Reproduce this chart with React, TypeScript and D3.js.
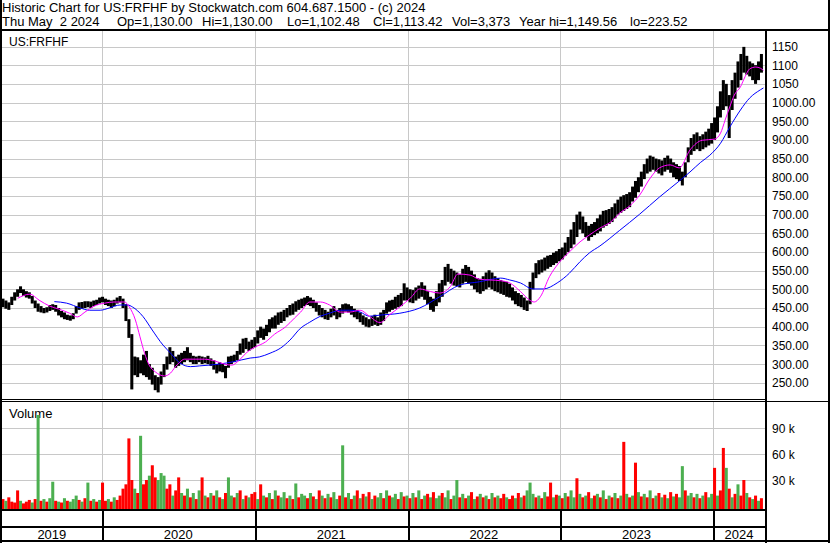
import React from 'react';
import * as d3 from 'd3';

const headerLine1 = 'Historic Chart for US:FRFHF by Stockwatch.com 604.687.1500 - (c) 2024';
const headerFields = ['Thu May  2 2024', 'Op=1,130.00', 'Hi=1,130.00', 'Lo=1,102.48', 'Cl=1,113.42', 'Vol=3,373', 'Year hi=1,149.56', 'lo=223.52'];
const symbolLabel = 'US:FRFHF';
const volumeLabel = 'Volume';
const yearLabels = [2019, 2020, 2021, 2022, 2023, 2024];
const priceTicks = [250, 300, 350, 400, 450, 500, 550, 600, 650, 700, 750, 800, 850, 900, 950, 1000, 1050, 1100, 1150];
const priceTickLabels = ['250.00', '300.00', '350.00', '400.00', '450.00', '500.00', '550.00', '600.00', '650.00', '700.00', '750.00', '800.00', '850.00', '900.00', '950.00', '1000.00', '1050', '1100', '1150'];
const volumeTicks = [30, 60, 90];
const volumeTickLabels = ['30 k', '60 k', '90 k'];
const firstWeek = new Date(2019, 4, 3);

const weekLow = [
  455,452,448,445,458,470,480,490,482,478,
  475,462,450,440,438,436,438,442,445,440,
  430,425,420,418,416,420,435,445,448,450,
  452,450,455,458,462,465,458,455,450,455,
  462,465,450,415,370,232,270,265,275,270,
  265,258,245,230,224,245,265,285,300,305,
  290,295,300,305,310,305,300,300,305,300,
  302,300,295,285,275,280,278,262,290,300,
  305,310,325,330,340,335,340,345,355,370,
  365,375,385,395,395,405,410,415,425,430,
  432,440,445,450,455,458,455,450,440,430,
  425,420,418,425,430,420,425,435,440,438,
  432,425,420,412,405,400,398,402,405,402,
  405,415,435,440,445,448,452,455,470,470,
  465,463,470,475,480,472,460,445,440,455,
  465,480,510,520,515,510,508,505,515,520,
  515,510,500,492,488,495,500,505,500,495,
  492,488,485,480,478,470,460,455,452,445,
  442,460,500,530,540,545,550,555,560,565,
  570,575,580,590,600,610,620,640,660,650,
  640,630,640,645,650,655,665,670,675,680,
  690,700,705,710,715,720,735,745,760,775,
  795,810,815,820,815,810,805,815,820,812,
  800,795,790,778,800,840,860,870,875,870,
  875,880,885,890,900,920,960,980,990,905,
  980,1010,1040,1060,1080,1075,1070,1060,1050,1060,
  1080,
];
const weekHigh = [
  478,475,470,465,480,492,500,508,500,495,
  492,482,470,462,455,450,452,458,460,458,
  450,442,438,432,430,436,455,465,466,468,
  468,467,470,472,478,480,475,472,470,472,
  478,482,475,460,420,380,320,318,310,325,
  335,300,290,270,265,280,300,320,345,335,
  320,325,330,335,345,330,322,320,322,320,
  318,322,315,310,300,305,300,295,320,322,
  325,335,355,368,370,360,365,372,390,400,
  395,405,420,425,430,438,440,445,450,458,
  462,468,472,475,478,482,478,472,465,458,
  450,445,440,448,455,445,450,460,462,460,
  455,448,445,438,430,425,420,428,432,425,
  438,445,465,470,472,480,485,490,516,505,
  500,498,505,510,519,510,495,480,475,495,
  516,525,560,568,555,550,545,540,555,565,
  560,550,540,530,528,535,545,551,545,535,
  530,525,522,520,515,505,495,490,485,478,
  470,520,545,570,578,580,585,590,592,598,
  602,608,612,625,640,660,680,700,708,695,
  680,670,675,680,690,700,710,712,715,720,
  730,740,748,752,755,760,775,790,800,815,
  835,850,858,855,850,848,845,852,858,850,
  840,835,830,815,840,880,905,915,920,910,
  915,922,930,945,960,990,1030,1060,1050,1020,
  1060,1080,1110,1130,1149,1125,1110,1105,1100,1110,
  1130,
];
// weekly volume, thousands of shares
const weekVolume = [
  18,8,6,10,5,4,18,6,3,5,7,4,8,105,6,8,5,9,28,6,5,4,9,6,5,8,12,7,5,9,27,6,8,5,7,
  27,6,8,5,10,7,12,20,25,78,30,20,15,81,25,30,35,47,33,30,38,35,20,25,12,18,33,15,12,20,10,15,8,18,33,12,10,15,12,18,10,8,15,33,12,10,15,18,8,12,10,14,
  16,8,25,12,10,15,8,18,12,10,16,9,12,8,26,10,14,12,9,15,11,8,18,12,9,14,10,16,8,12,70,10,15,8,12,18,9,14,11,16,8,12,10,15,9,18,12,10,14,8,16,11,
  12,9,15,10,18,8,12,14,10,16,9,12,15,10,18,8,12,30,10,14,9,12,16,8,11,14,10,12,8,15,10,12,9,14,10,8,12,9,15,10,12,18,27,14,10,12,9,16,11,27,10,13,
  12,9,15,11,18,10,32,14,10,12,16,9,12,14,10,18,8,12,10,15,9,12,74,14,10,12,50,16,11,14,10,18,9,12,15,10,13,9,16,11,14,10,46,18,12,15,10,14,9,12,16,10,
  14,44,12,18,67,44,20,10,14,25,12,30,15,10,8,12,6,9,
];
const weekDirection = (
  'rrgrrrrgrrrgr' + 'grgrgg' + 'rgrgrggg' + 'rgrgrgrg' +
  'rrgrgrrrrr' + 'rgrgrrgrrg' + 'ggrrgrrgrg' + 'rgrgrgrgrg' + 'rgrggrgrgrgr' +
  'rgrgrgrgrg' + 'grgrgrggrg' + 'rgrgrgrggr' + 'grgrgrgrgr' + 'grggrgrggrgr' +
  'grgrgrgrgr' + 'ggrggrggrg' + 'rgrgrgrgrg' + 'rgrrgrrgrg' + 'rgggrgrgrrgr' +
  'grgrggrgrg' + 'rgrgrgrgrg' + 'rgrgrgrgrg' + 'rgrgrgrgrg' + 'rggrggrgrgrg' +
  'grgrrgrgrgrrgrgrgr'
).split('');

// moving averages (decimal year, price)
const maShortYear = [2019.45,2019.53,2019.59,2019.66,2019.72,2019.79,2019.84,2019.89,2019.95,2020.02,2020.08,2020.15,2020.18,2020.22,2020.25,2020.28,2020.31,2020.35,2020.38,2020.41,2020.45,2020.48,2020.51,2020.54,2020.61,2020.67,2020.74,2020.80,2020.85,2020.90,2020.95,2021.00,2021.07,2021.13,2021.20,2021.26,2021.30,2021.36,2021.43,2021.49,2021.56,2021.62,2021.69,2021.75,2021.82,2021.88,2021.95,2022.02,2022.08,2022.15,2022.21,2022.28,2022.33,2022.41,2022.47,2022.54,2022.61,2022.67,2022.74,2022.80,2022.83,2022.87,2022.93,2022.99,2023.06,2023.13,2023.19,2023.26,2023.33,2023.39,2023.46,2023.52,2023.59,2023.65,2023.72,2023.78,2023.85,2023.93,2024.01,2024.05,2024.08,2024.11,2024.14,2024.18,2024.21,2024.24,2024.28,2024.31,2024.33];
const maShortValue = [476,487,471,455,447,436,426,439,455,463,466,466,453,418,373,329,297,279,271,268,276,292,305,313,313,313,308,300,297,311,332,345,359,380,399,423,439,466,466,458,439,439,444,428,411,431,453,477,501,494,490,507,541,538,527,525,523,517,494,471,466,480,534,570,600,627,645,664,680,704,725,752,798,825,833,825,873,899,902,918,953,988,1020,1042,1069,1090,1095,1092,1086];
const maLongYear = [2019.69,2019.77,2019.86,2019.92,2019.99,2020.05,2020.12,2020.17,2020.20,2020.27,2020.33,2020.40,2020.45,2020.51,2020.58,2020.64,2020.77,2020.86,2020.97,2021.03,2021.10,2021.17,2021.23,2021.30,2021.36,2021.43,2021.49,2021.56,2021.62,2021.69,2021.75,2021.82,2021.95,2022.08,2022.21,2022.34,2022.47,2022.61,2022.67,2022.74,2022.82,2022.89,2022.98,2023.06,2023.13,2023.19,2023.26,2023.39,2023.52,2023.65,2023.78,2023.85,2023.92,2023.98,2024.05,2024.11,2024.18,2024.24,2024.31,2024.33];
const maLongValue = [467,463,450,444,444,450,458,458,453,427,391,351,329,303,293,295,300,306,316,319,329,343,364,396,412,428,436,444,444,439,428,431,436,450,480,511,520,530,525,517,501,501,517,543,574,597,616,658,701,747,790,814,840,859,891,934,980,1012,1034,1039];

const W = 830;
const H = 543;
const headerFieldX = [2, 117, 202, 287, 373, 452, 519, 630];

function yearToDate(y: number) {
  const yr = Math.floor(y);
  const s = new Date(yr, 0, 1).getTime();
  const e = new Date(yr + 1, 0, 1).getTime();
  return new Date(s + (y - yr) * (e - s));
}

export default function App() {
  const plotL = 2, plotR = 765;
  const priceTop = 31, priceBot = 399;
  const volTop = 402, volBot = 509;

  const x = d3.scaleTime().domain([new Date(2019, 0, 1), new Date(2025, 0, 1)]).range([-51, 866]);
  const yP = d3.scaleLinear().domain([250, 1150]).range([382.7, 46.5]);
  const yV = d3.scaleLinear().domain([0, 90]).range([506, 428]);

  const dates = weekHigh.map((_, i) => d3.timeWeek.offset(firstWeek, i));
  const yearStarts = yearLabels.map((y) => new Date(y, 0, 1));
  const yearEnds = yearLabels.map((y) => new Date(y + 1, 0, 1));
  const step = x(dates[1]) - x(dates[0]);

  const lineGen = d3.line<[number, number]>()
    .x((d) => x(yearToDate(d[0])))
    .y((d) => yP(d[1]))
    .curve(d3.curveMonotoneX);
  const shortPath = lineGen(maShortYear.map((yv, i) => [yv, maShortValue[i]] as [number, number])) || '';
  const longPath = lineGen(maLongYear.map((yv, i) => [yv, maLongValue[i]] as [number, number])) || '';

  const grid = '#c8c8c8';
  const font = '"Liberation Sans", Arial, sans-serif';
  const bw = step + 0.1;

  return (
    <svg width={W} height={H} style={{ position: 'absolute', left: 0, top: 0, background: '#fff' }} fontFamily={font}>
      <defs>
        <clipPath id="pclip"><rect x={plotL} y={priceTop} width={plotR - plotL} height={priceBot - priceTop} /></clipPath>
        <clipPath id="vclip"><rect x={plotL} y={volTop} width={plotR - plotL} height={volBot - volTop} /></clipPath>
      </defs>
      <rect x={0} y={0} width={W} height={H} fill="#fff" />

      {/* header */}
      <text x={2} y={12} fontSize={13}>{headerLine1}</text>
      {headerFields.map((f, i) => (
        <text key={'hf' + i} x={headerFieldX[i]} y={26} fontSize={13} style={{ whiteSpace: 'pre' }}>{f}</text>
      ))}

      {/* price grid */}
      {priceTicks.map((t) => (
        <line key={'pg' + t} x1={plotL} x2={plotR} y1={Math.round(yP(t)) + 0.5} y2={Math.round(yP(t)) + 0.5} stroke={grid} strokeWidth={1} />
      ))}
      {yearStarts.map((d, i) => {
        const xx = Math.round(x(d)) + 0.5;
        if (xx < plotL || xx > plotR) return null;
        return (
          <g key={'vg' + i}>
            <line x1={xx} x2={xx} y1={priceTop} y2={priceBot} stroke={grid} />
            <line x1={xx} x2={xx} y1={volTop} y2={volBot} stroke={grid} />
          </g>
        );
      })}
      {volumeTicks.map((t) => (
        <line key={'vgl' + t} x1={plotL} x2={plotR} y1={Math.round(yV(t)) + 0.5} y2={Math.round(yV(t)) + 0.5} stroke={grid} />
      ))}

      <text x={9} y={46} fontSize={12}>{symbolLabel}</text>
      <text x={9} y={418} fontSize={13}>{volumeLabel}</text>

      {/* price bars */}
      <g clipPath="url(#pclip)">
        {dates.map((d, i) => (
          <rect key={'pb' + i} x={x(d) - bw / 2} y={yP(weekHigh[i])} width={bw} height={Math.max(1, yP(weekLow[i]) - yP(weekHigh[i]))} fill="#000" />
        ))}
        <path d={longPath} fill="none" stroke="#0000ff" strokeWidth={1} />
        <path d={shortPath} fill="none" stroke="#ff00ff" strokeWidth={1} />
      </g>

      {/* volume bars */}
      <g clipPath="url(#vclip)">
        {dates.map((d, i) => (
          <rect key={'vb' + i} x={x(d) - bw / 2} y={yV(weekVolume[i])} width={bw} height={volBot - yV(weekVolume[i])}
            fill={weekDirection[i] === 'r' ? '#ff0000' : '#4caf50'} />
        ))}
      </g>

      {/* right axis labels */}
      {priceTicks.map((t, i) => (
        <text key={'pl' + t} x={772} y={yP(t) + 4.5} fontSize={12} fill="#000">{priceTickLabels[i]}</text>
      ))}
      {volumeTicks.map((t, i) => (
        <text key={'vl' + t} x={772} y={yV(t) + 4.5} fontSize={12} fill="#000">{volumeTickLabels[i]}</text>
      ))}

      {/* year labels and separators */}
      {yearLabels.map((y, i) => {
        const a = Math.max(plotL, x(yearStarts[i]));
        const b = Math.min(plotR, x(yearEnds[i]));
        return <text key={'yl' + y} x={(a + b) / 2} y={539} fontSize={13} textAnchor="middle">{y}</text>;
      })}
      {yearStarts.map((d, i) => {
        const xx = Math.round(x(d)) + 1;
        if (xx < plotL || xx > plotR) return null;
        return <line key={'ys' + i} x1={xx} x2={xx} y1={510} y2={541} stroke="#000" strokeWidth={2} />;
      })}

      {/* frame */}
      <line x1={0} x2={W} y1={30} y2={30} stroke="#000" strokeWidth={2} />
      <line x1={1} x2={1} y1={0} y2={H} stroke="#000" strokeWidth={2} />
      <line x1={829} x2={829} y1={0} y2={H} stroke="#000" strokeWidth={2} />
      <line x1={0} x2={W} y1={541} y2={541} stroke="#000" strokeWidth={2} />
      <line x1={766} x2={766} y1={30} y2={H} stroke="#000" strokeWidth={2} />
      <line x1={0} x2={766} y1={399.5} y2={399.5} stroke="#000" strokeWidth={1} />
      <line x1={0} x2={W} y1={401.5} y2={401.5} stroke="#000" strokeWidth={1} />
      <line x1={0} x2={766} y1={510} y2={510} stroke="#000" strokeWidth={2} />
      <line x1={0} x2={766} y1={527} y2={527} stroke="#000" strokeWidth={2} />
    </svg>
  );
}
